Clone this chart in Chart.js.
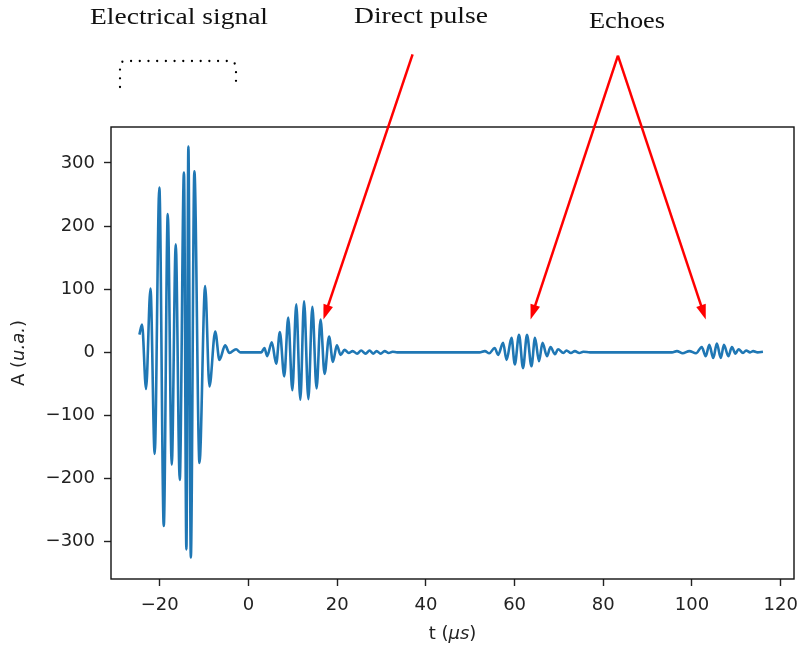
<!DOCTYPE html>
<html><head><meta charset="utf-8">
<script src="https://cdn.jsdelivr.net/npm/chart.js@4.4.0/dist/chart.umd.min.js"></script>
<style>html,body{margin:0;padding:0;background:#fff;}canvas{display:block;}</style>
</head><body>
<canvas id="c" width="798" height="650"></canvas>
<script>
// ---- data (t in µs, A in a.u.) ----
const tElectric = [-24.6,-24.0,-23.1,-22.1,-21.15,-20.1,-19.1,-18.2,-17.3,-16.4,-15.5,-14.55,-14.0,-13.55,-13.0,-12.2,-11.05,-9.77,-8.8,-7.5,-6.55,-5.26,-4.3,-2.8,-1.8,2.9];
const aElectric = [28,44,-58,101,-161,261,-275,219,-178,171,-202,285,-312,326,-325,287,-175,105,-54,33,-12,11,-1,5,0,0];
const tDirect = [3.6,4.2,5.26,6.25,7.07,8.06,8.96,9.89,10.77,11.69,12.53,13.5,14.4,15.35,16.25,17.16,18.17,19.03,19.93,20.77,21.67,22.6,23.5,24.5,25.4,26.4,27.3,28.1,28.9,29.8,30.7,31.6,32.5,33.5];
const aDirect = [7,-6,16,-18,32,-38,55,-60,76,-75,81,-74,72,-57,52,-34,25,-15,11,-4,4,-1,2,-2,3,-2,3,-2,2,-2,2,-1,1,0];
const tEcho1 = [52.1,53.3,54.3,55.5,56.3,57.4,58.2,59.3,60.05,61.0,61.9,62.8,63.8,64.6,65.5,66.3,67.3,68.1,69.1,69.8,71.0,71.7,72.7,73.6,74.6,75.5,77.0];
const aEcho1 = [0,2,-1.5,7,-4,15,-12,23,-19,28,-25,28,-22,23,-14,15,-6,8.5,-3,5,-1,3,-1,2,-1,1,0];
const tEcho2 = [95.5,96.6,97.9,99.4,100.9,102.2,103.1,103.9,104.8,105.6,106.5,107.2,108.2,109.0,109.8,110.5,111.5,112.2,113.1,113.8,114.8,116.0];
const aEcho2 = [0,2,-1.5,2,-1.5,8.5,-6,12,-9,14,-9,12,-6,8.5,-2,5,-1,3,0,2,0,1];

const xTicks = [-20,0,20,40,60,80,100,120];
const yTicks = [-300,-200,-100,0,100,200,300];
const xRange = [-31, 123];
const yRange = [-359, 357];

const labelTexts = ['Electrical signal','Direct pulse','Echoes'];
// arrows: tail and tip in data coordinates
const arrowTails = [[37.0,472],[83.3,470],[83.3,470]];
const arrowTips  = [[16.9,52],[63.6,52],[103.1,52]];

// ---- build series ----
const points = [];
[[tElectric,aElectric],[tDirect,aDirect],[tEcho1,aEcho1],[tEcho2,aEcho2]].forEach(([ts,as])=>{
  ts.forEach((t,i)=>points.push({x:t,y:as[i]}));
});

const fmt = v => (v < 0 ? '\u2212' + Math.abs(v) : String(v));
const tickFont = {family:'"DejaVu Sans"', size:18};
const serif = '"Liberation Serif", "Times New Roman", serif';
const labelBoxes = [
  {left:90, baseline:24, width:178},
  {left:354, baseline:23, width:134},
  {left:589, baseline:28, width:76}
];

function fitText(ctx, text, b){
  ctx.save();
  ctx.font = '23px ' + serif;
  const w = ctx.measureText(text).width;
  ctx.translate(b.left, b.baseline);
  ctx.scale(b.width / w, 1);
  ctx.fillStyle = '#111';
  ctx.textAlign = 'left';
  ctx.textBaseline = 'alphabetic';
  ctx.fillText(text, 0, 0);
  ctx.restore();
}

function drawMixed(ctx, parts, cx, baseline){
  let total = 0;
  const widths = parts.map(([t,it])=>{
    ctx.font = (it ? 'italic ' : '') + '18px "DejaVu Sans"';
    const w = ctx.measureText(t).width; total += w; return w;
  });
  let x = cx - total/2;
  parts.forEach(([t,it],i)=>{
    ctx.font = (it ? 'italic ' : '') + '18px "DejaVu Sans"';
    ctx.fillText(t, x, baseline);
    x += widths[i];
  });
}

function drawArrow(ctx, x1, y1, x2, y2){
  const dx = x2-x1, dy = y2-y1, L = Math.hypot(dx,dy);
  const ux = dx/L, uy = dy/L;
  const hl = 15, hw = 5;
  const bx = x2 - ux*hl, by = y2 - uy*hl;
  ctx.beginPath();
  ctx.moveTo(x1,y1); ctx.lineTo(bx + ux*2, by + uy*2);
  ctx.stroke();
  ctx.beginPath();
  ctx.moveTo(x2,y2);
  ctx.lineTo(bx - uy*hw, by + ux*hw);
  ctx.lineTo(bx + uy*hw, by - ux*hw);
  ctx.closePath();
  ctx.fill();
}

const decorPlugin = {
  id:'decor',
  afterDraw(chart){
    const ctx = chart.ctx, a = chart.chartArea;
    const sx = chart.scales.x, sy = chart.scales.y;
    ctx.save();
    ctx.strokeStyle = '#111'; ctx.lineWidth = 1.4;
    ctx.strokeRect(a.left, a.top, a.right - a.left, a.bottom - a.top);
    ctx.fillStyle = '#222'; ctx.textBaseline = 'alphabetic'; ctx.textAlign = 'left';
    drawMixed(ctx, [['t (',false],['\u03bcs',true],[')',false]], (a.left+a.right)/2, 639);
    ctx.save();
    ctx.translate(24, (a.top+a.bottom)/2);
    ctx.rotate(-Math.PI/2);
    drawMixed(ctx, [['A (',false],['u.a.',true],[')',false]], 0, 0);
    ctx.restore();
    labelTexts.forEach((t,i)=>fitText(ctx, t, labelBoxes[i]));
    ctx.strokeStyle = '#000'; ctx.lineWidth = 2.3; ctx.lineCap = 'round';
    ctx.setLineDash([0, 8.7]);
    ctx.beginPath();
    ctx.moveTo(120, 87); ctx.lineTo(120, 65); ctx.quadraticCurveTo(121, 61, 126, 61);
    ctx.lineTo(229, 61); ctx.quadraticCurveTo(235, 61, 236, 67); ctx.lineTo(236, 84);
    ctx.stroke();
    ctx.setLineDash([]);
    ctx.strokeStyle = '#ff0000'; ctx.fillStyle = '#ff0000'; ctx.lineWidth = 2.5; ctx.lineCap = 'butt';
    arrowTails.forEach((tl,i)=>{
      const tp = arrowTips[i];
      drawArrow(ctx, sx.getPixelForValue(tl[0]), sy.getPixelForValue(tl[1]),
                     sx.getPixelForValue(tp[0]), sy.getPixelForValue(tp[1]));
    });
    ctx.restore();
  }
};

new Chart(document.getElementById('c'), {
  type:'line',
  data:{datasets:[{data:points, borderColor:'#1f77b4', borderWidth:2.6, pointRadius:0,
    cubicInterpolationMode:'monotone', fill:false}]},
  options:{
    responsive:false, animation:false, devicePixelRatio:1,
    layout:{padding:{top:127, right:4, left:0, bottom:0}},
    plugins:{legend:{display:false}, tooltip:{enabled:false}},
    scales:{
      x:{type:'linear', min:xRange[0], max:xRange[1],
        afterFit(s){ s.height = 71; s.paddingLeft = 0; s.paddingRight = 0; },
        afterBuildTicks(s){ s.ticks = xTicks.map(v=>({value:v})); },
        ticks:{font:tickFont, color:'#222', padding:9, maxRotation:0, autoSkip:false, includeBounds:false, callback:v=>fmt(v)},
        grid:{display:true, drawOnChartArea:false, drawTicks:true, tickLength:7, tickWidth:1.4, tickColor:'#222'},
        border:{display:false}},
      y:{type:'linear', min:yRange[0], max:yRange[1],
        afterFit(s){ s.width = 111; s.paddingTop = 0; s.paddingBottom = 0; },
        afterBuildTicks(s){ s.ticks = yTicks.map(v=>({value:v})); },
        ticks:{font:tickFont, color:'#222', padding:9, autoSkip:false, includeBounds:false, callback:v=>fmt(v)},
        grid:{display:true, drawOnChartArea:false, drawTicks:true, tickLength:7, tickWidth:1.4, tickColor:'#222'},
        border:{display:false}}
    }
  },
  plugins:[decorPlugin]
});
</script>
</body></html>
